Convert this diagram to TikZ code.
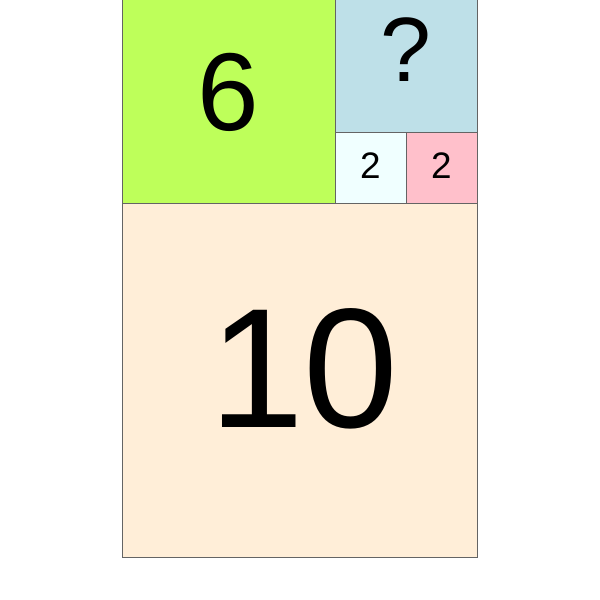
\documentclass[tikz,border=0pt]{standalone}
\usepackage{fontspec}
\setmainfont{Liberation Sans}
\usepackage{xcolor}
\usepackage{tikz}
\definecolor{sqgreen}{RGB}{190,255,90}
\definecolor{sqblue}{RGB}{190,224,232}
\definecolor{sqazure}{RGB}{240,255,255}
\definecolor{sqpink}{RGB}{255,192,203}
\definecolor{sqpeach}{RGB}{255,238,216}
\definecolor{edgegray}{RGB}{100,100,100}

\begin{document}
\begin{tikzpicture}[
    x=0.02cm, y=-0.02cm,
    tile/.style={draw=edgegray, line width=0.4pt},
    num/.style={inner sep=0pt, text=black}
]
    \useasboundingbox (0,0) rectangle (600,600);
    \clip (0,0) rectangle (600,600);

    \draw[tile, fill=sqpeach] (122,203) rectangle (477,557);
    \draw[tile, fill=sqgreen] (122,-10) rectangle (335,203);
    \draw[tile, fill=sqblue] (335,-10) rectangle (477,132);
    \draw[tile, fill=sqazure] (335,132) rectangle (406,203);
    \draw[tile, fill=sqpink] (406,132) rectangle (477,203);

    \node[num, font=\fontsize{97}{97}\selectfont] (ten) at (304,368.5) {10};
    \node[num, font=\fontsize{63}{63}\selectfont] (six) at (228.5,92) {6};
    \node[num, font=\fontsize{52}{52}\selectfont] (unknown) at (406,50) {?};
    \node[num, font=\fontsize{21}{21}\selectfont] (twoa) at (370.5,166) {2};
    \node[num, font=\fontsize{21}{21}\selectfont] (twob) at (441.5,166) {2};
\end{tikzpicture}
\end{document}
